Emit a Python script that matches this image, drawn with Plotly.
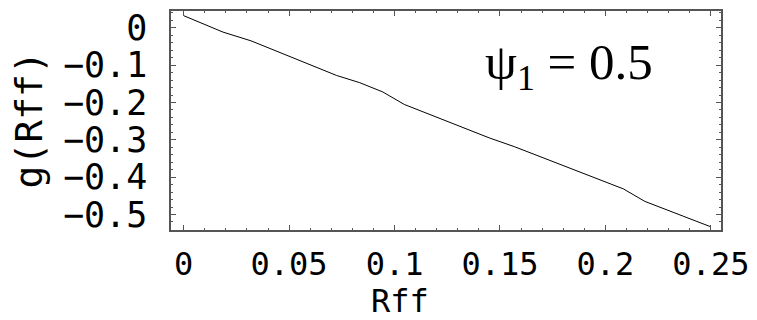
import plotly.graph_objects as go

# data
rff = [0.0, 0.0186, 0.032, 0.0725, 0.0835, 0.0944, 0.1046, 0.145, 0.157, 0.1976, 0.2085, 0.2187, 0.25]
g_rff = [0.0325, -0.0114, -0.035, -0.1276, -0.147, -0.1717, -0.2052, -0.295, -0.3187, -0.4077, -0.4314, -0.4649, -0.533]

x_tickvals = [0, 0.05, 0.1, 0.15, 0.2, 0.25]
x_ticktext = ["0", "0.05", "0.1", "0.15", "0.2", "0.25"]
y_tickvals = [0, -0.1, -0.2, -0.3, -0.4, -0.5]
y_ticktext = ["0", "\u22120.1", "\u22120.2", "\u22120.3", "\u22120.4", "\u22120.5"]

mono = "DejaVu Sans Mono"
frame = "#555555"

fig = go.Figure()
fig.add_trace(go.Scatter(x=rff, y=g_rff, mode="lines",
                         line=dict(color="black", width=1), showlegend=False))

axis_common = dict(showline=True, linecolor=frame, linewidth=1.5, mirror="allticks",
                   ticks="inside", ticklen=5, tickwidth=1, tickcolor=frame,
                   showgrid=False, zeroline=False)

fig.update_xaxes(range=[-0.006, 0.2548], tickvals=x_tickvals, ticktext=x_ticktext,
                 minor=dict(ticks="inside", ticklen=2.5, dtick=0.01, tick0=0, tickcolor=frame),
                 tickfont=dict(family=mono, size=32, color="black"),
                 ticklabelstandoff=5, **axis_common)
fig.update_yaxes(range=[-0.5415, 0.045], tickvals=y_tickvals, ticktext=y_ticktext,
                 minor=dict(ticks="inside", ticklen=2.5, dtick=0.02, tick0=0, tickcolor=frame),
                 tickfont=dict(family=mono, size=35, color="black"),
                 ticklabelstandoff=15, **axis_common)

fig.add_annotation(text="g(Rff)", xref="paper", yref="paper", x=-0.26, y=0.5,
                   textangle=-90, showarrow=False, xanchor="center", yanchor="middle",
                   font=dict(family=mono, size=38, color="black"))
fig.add_annotation(text="Rff", xref="paper", yref="paper", x=0.4155, y=-0.325,
                   showarrow=False, xanchor="center", yanchor="middle",
                   font=dict(family=mono, size=32, color="black"))
fig.add_annotation(text="\u03c8<sub>1</sub> = 0.5", xref="paper", yref="paper", x=0.723, y=0.75,
                   showarrow=False, xanchor="center", yanchor="middle",
                   font=dict(family="Liberation Serif", size=51, color="black"))

fig.update_layout(width=757, height=320, margin=dict(l=171, r=30, t=8, b=90),
                  paper_bgcolor="white", plot_bgcolor="white")

fig.write_html("out.html")
